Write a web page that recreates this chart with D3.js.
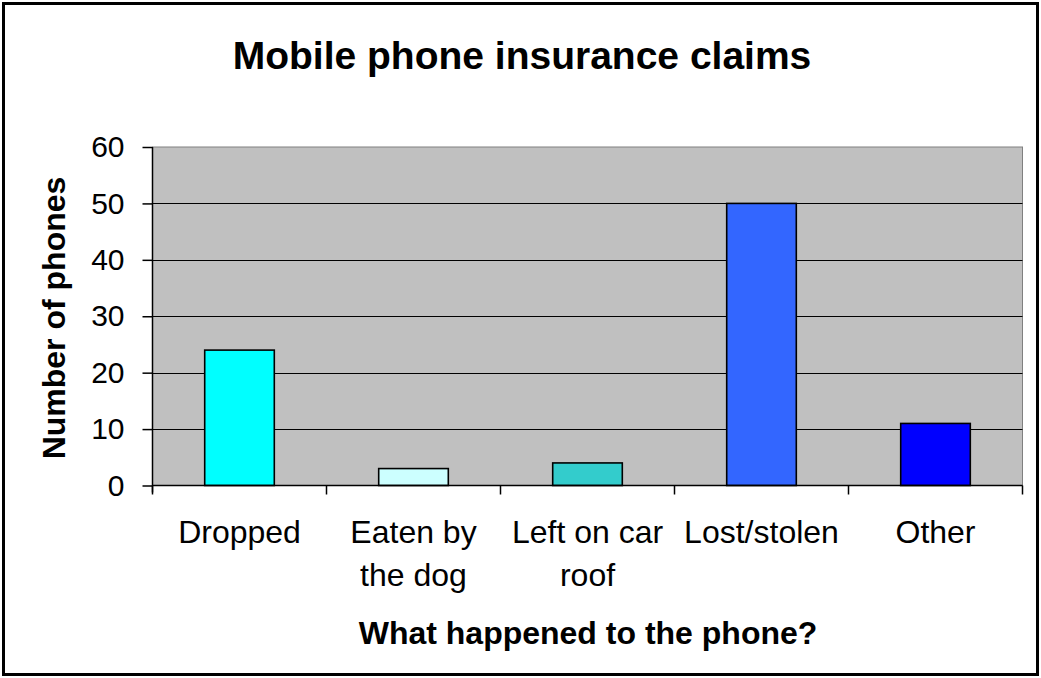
<!DOCTYPE html>
<html><head><meta charset="utf-8">
<script src="https://cdn.jsdelivr.net/npm/d3@7"></script>
<style>body{margin:0;background:#fff}svg{display:block;font-family:"Liberation Sans",Arial,sans-serif}</style>
</head><body>
<script>
const categories = [["Dropped"],["Eaten by","the dog"],["Left on car","roof"],["Lost/stolen"],["Other"]];
const values = [24, 3, 4, 50, 11];
const colors = ["#00FFFF","#CCFFFF","#33CCCC","#3366FF","#0000FF"];
const yTicks = [0,10,20,30,40,50,60];
const title = "Mobile phone insurance claims";
const yLabel = "Number of phones";
const xLabel = "What happened to the phone?";

const W=1041,H=678;
const svg=d3.select("body").append("svg").attr("width",W).attr("height",H);
svg.append("rect").attr("x",3.5).attr("y",3.5).attr("width",W-7).attr("height",H-7)
  .attr("fill","#fff").attr("stroke","#000").attr("stroke-width",3);

const L=152.5,R=1022.5,T=147,B=485.5;
const x=d3.scaleBand().domain(d3.range(categories.length)).range([L,R]).paddingInner(0.6).paddingOuter(0.3);
const xb=d3.scaleBand().domain(d3.range(categories.length)).range([L,R]);
const y=d3.scaleLinear().domain([0,60]).range([B,T]);

svg.append("rect").attr("x",L).attr("y",T).attr("width",R-L).attr("height",B-T)
  .attr("fill","#C0C0C0").attr("stroke","#808080").attr("stroke-width",1);
svg.selectAll("line.grid").data(yTicks.filter(d=>d>0&&d<60)).enter().append("line")
  .attr("x1",L).attr("x2",R).attr("y1",d=>Math.round(y(d))+0.5).attr("y2",d=>Math.round(y(d))+0.5)
  .attr("stroke","#000").attr("stroke-width",1.2);

svg.selectAll("rect.bar").data(values).enter().append("rect")
  .attr("x",(d,i)=>x(i)).attr("width",x.bandwidth())
  .attr("y",d=>y(d)).attr("height",d=>B-y(d))
  .attr("fill",(d,i)=>colors[i]).attr("stroke","#000").attr("stroke-width",1.6);

// y axis
const ya=svg.append("g").attr("transform",`translate(${L},0)`)
  .call(d3.axisLeft(y).tickValues(yTicks).tickSize(10).tickPadding(18));
ya.select(".domain").attr("stroke","#000").attr("stroke-width",1.5).attr("d",`M0,${T}V${B+7}`);
ya.selectAll(".tick line").attr("stroke","#000").attr("stroke-width",1.5);
ya.selectAll(".tick text").attr("font-size",30).attr("fill","#000").attr("font-family","Liberation Sans, Arial, sans-serif");

// x axis line and ticks at band boundaries
svg.append("line").attr("x1",L).attr("x2",R).attr("y1",B).attr("y2",B).attr("stroke","#000").attr("stroke-width",1.5);
svg.selectAll("line.xt").data(d3.range(categories.length+1)).enter().append("line")
  .attr("x1",i=>i<categories.length?xb(i):R).attr("x2",i=>i<categories.length?xb(i):R)
  .attr("y1",B).attr("y2",B+9).attr("stroke","#000").attr("stroke-width",1.5);

const xl=svg.selectAll("text.cat").data(categories).enter().append("text")
  .attr("x",(d,i)=>xb(i)+xb.bandwidth()/2).attr("y",543).attr("text-anchor","middle")
  .attr("font-size",32).attr("fill","#000");
xl.selectAll("tspan").data(d=>d).enter().append("tspan")
  .attr("x",function(){return d3.select(this.parentNode).attr("x");})
  .attr("dy",(d,i)=>i?43:0).text(d=>d);

svg.append("text").attr("x",522).attr("y",69).attr("text-anchor","middle")
  .attr("font-size",39).attr("font-weight","bold").text(title);
svg.append("text").attr("x",588).attr("y",644).attr("text-anchor","middle")
  .attr("font-size",32).attr("font-weight","bold").text(xLabel);
svg.append("text").attr("transform",`translate(65,318) rotate(-90)`).attr("text-anchor","middle")
  .attr("font-size",32).attr("font-weight","bold").text(yLabel);
</script>
</body></html>
